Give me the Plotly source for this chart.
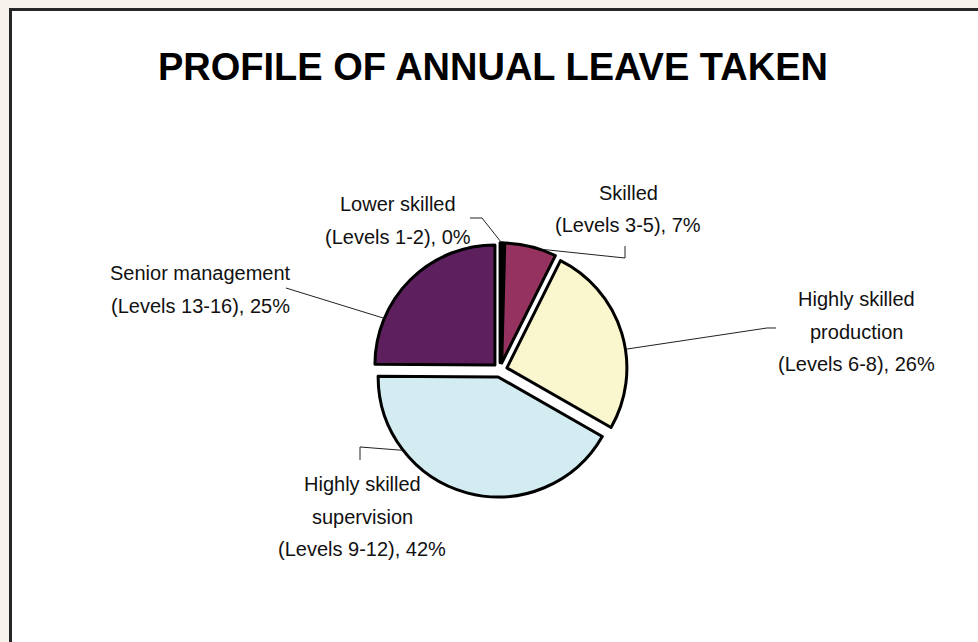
import math
import plotly.graph_objects as go

# ---- data ----
categories = [
    "Lower skilled<br>(Levels 1-2)",
    "Skilled<br>(Levels 3-5)",
    "Highly skilled<br>production<br>(Levels 6-8)",
    "Highly skilled<br>supervision<br>(Levels 9-12)",
    "Senior management<br>(Levels 13-16)",
]
values = [0.4, 7, 26, 42, 25]
colors = ["#141414", "#96325F", "#FAF6CE", "#D2ECF1", "#5E1F5E"]
title_text = "PROFILE OF ANNUAL LEAVE TAKEN"

# ---- layout constants (pixels) ----
W, H = 978, 642
CX, CY, R, PULL = 500, 370, 120, 0.06
BOX = 2 * R * (1 + PULL)
LABEL_POS = [(398, 204), (628, 193), (856, 299), (362, 484), (200, 273)]
LINE_GAP = 32.5
LEADER = [
    [(470, 218), (482, 218)],
    [(625, 246), (625, 258)],
    [(776, 328), (767, 328)],
    [(360, 460), (360, 447)],
    [(286, 288)],
]
LABEL_FONT = dict(family="Liberation Sans, Arial, sans-serif", size=20, color="#111111")


def px(x):
    return x / W


def py(y):
    return 1 - y / H


fig = go.Figure()
fig.add_trace(go.Pie(
    labels=categories,
    values=values,
    sort=False,
    direction="clockwise",
    rotation=0,
    pull=[PULL] * len(values),
    marker=dict(colors=colors, line=dict(color="#000000", width=3)),
    textinfo="none",
    hoverinfo="label+percent",
    showlegend=False,
    domain=dict(x=[px(CX - BOX / 2), px(CX + BOX / 2)],
                y=[py(CY + BOX / 2), py(CY - BOX / 2)]),
))

total = sum(values)
annotations = []
shapes = [
    dict(type="rect", xref="paper", yref="paper",
         x0=px(10.5), x1=1.05, y0=-0.05, y1=py(9.5),
         fillcolor="white", line=dict(color="#262626", width=3), layer="below"),
]
cum = 0.0
for i, (cat, v) in enumerate(zip(categories, values)):
    pct = round(v / total * 100)
    lines = cat.split("<br>")
    lines[-1] = f"{lines[-1]}, {pct}%"
    lx, ly = LABEL_POS[i]
    for j, t in enumerate(lines):
        annotations.append(dict(
            text=t, x=px(lx), y=py(ly + j * LINE_GAP), xref="paper", yref="paper",
            xanchor="center", yanchor="middle", showarrow=False, font=LABEL_FONT))
    # slice angular range (clockwise from 12 o'clock), in degrees
    a0 = 360 * cum / total
    a1 = 360 * (cum + v) / total
    cum += v
    mid = (a0 + a1) / 2
    # point the leader at the slice edge nearest the label anchor
    ax_, ay_ = LEADER[i][-1]
    ang = math.degrees(math.atan2(ax_ - CX, -(ay_ - CY))) % 360
    lo, hi = a0 + 0.25 * (a1 - a0), a1 - 0.25 * (a1 - a0)
    if not (lo <= ang <= hi):
        ang = min((lo, hi), key=lambda a: min(abs(a - ang), 360 - abs(a - ang)))
    th = math.radians(ang)
    mth = math.radians(mid)
    # pulled slice: offset along mid direction
    ox, oy = R * PULL * math.sin(mth), -R * PULL * math.cos(mth)
    ex, ey = CX + ox + (R + 1) * math.sin(th), CY + oy - (R + 1) * math.cos(th)
    pts = LEADER[i] + [(ex, ey)]
    path = "M " + " L ".join(f"{px(a):.5f},{py(b):.5f}" for a, b in pts)
    shapes.append(dict(type="path", xref="paper", yref="paper", path=path,
                       line=dict(color="#222222", width=1), layer="above"))

annotations.append(dict(
    text=title_text, x=px(493), y=py(67), xref="paper", yref="paper",
    xanchor="center", yanchor="middle", showarrow=False,
    font=dict(family="Liberation Sans, Arial, sans-serif",
              size=38, color="#000000", weight="bold")))

fig.update_layout(
    width=W, height=H,
    margin=dict(l=0, r=0, t=0, b=0),
    paper_bgcolor="#F6F3EC",
    plot_bgcolor="white",
    annotations=annotations,
    shapes=shapes,
)

fig.write_html("out.html")
